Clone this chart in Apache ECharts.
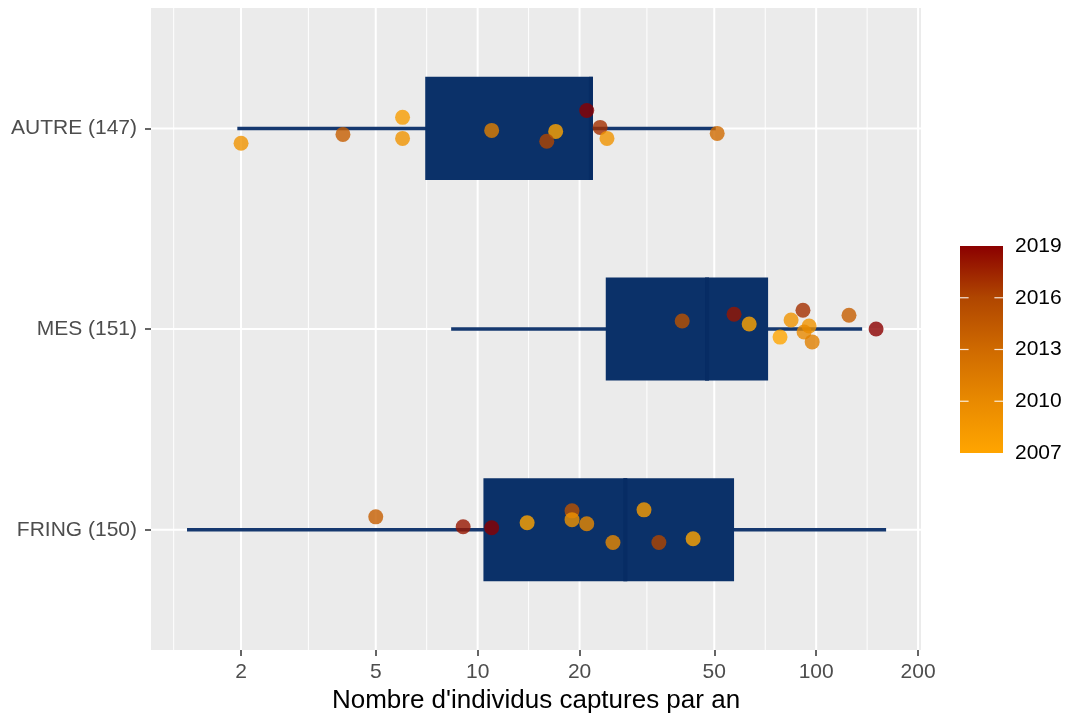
<!DOCTYPE html>
<html>
<head>
    <meta charset="utf-8">
    <title>Captures par an</title>
    <script src="https://cdn.jsdelivr.net/npm/echarts@6/dist/echarts.min.js"></script>
</head>
<body style="margin:0;background:#fff">
<div id="main" style="width:1070px;height:719px"></div>
<script type="text/javascript">
    // categories, bottom to top (y = 1, 2, 3)
    var categories = ['FRING (150)', 'MES (151)', 'AUTRE (147)'];

    // box stats: [whisker low, q1, median, q3, whisker high]
    var fringBox = [1.385, 10.4, 27.3, 57.2, 160.9];
    var mesBox = [8.35, 23.9, 47.6, 72.1, 136.7];
    var autreBox = [1.95, 7.0, 21.6, 21.9, 50.5];

    // points: value, vertical jitter, year
    var fringVals = [5, 9.06, 11.0, 14.0, 19.0, 19.0, 21.0, 25.1, 31.0, 34.3, 43.3];
    var fringJit = [0.064, 0.015, 0.01, 0.035, 0.094, 0.05, 0.03, -0.064, 0.099, -0.064, -0.045];
    var fringYears = [2014, 2018, 2019, 2007, 2015, 2009, 2010, 2010, 2008, 2016, 2007];

    var mesVals = [40.2, 57.2, 63.4, 84.3, 91.4, 95.3, 92.1, 78.2, 97.3, 125, 150.3];
    var mesJit = [0.04, 0.074, 0.025, 0.045, 0.094, 0.015, -0.015, -0.04, -0.064, 0.069, 0];
    var mesYears = [2015, 2018, 2007, 2009, 2017, 2009, 2010, 2007, 2011, 2014, 2019];

    var autreVals = [2, 4, 6, 6, 11, 17, 16, 21, 23, 24.1, 51];
    var autreJit = [-0.074, -0.03, 0.055, -0.05, -0.01, -0.015, -0.064, 0.089, 0.005, -0.05, -0.025];
    var autreYears = [2009, 2014, 2008, 2009, 2011, 2007, 2016, 2019, 2017, 2009, 2013];

    // x axis (log10)
    var xTicks = [2, 5, 10, 20, 50, 100, 200];
    var xMinor = [1.265, 3.162, 7.071, 14.14, 31.62, 70.71, 141.4];
    var xLimits = [1.084, 204];

    // colour scale
    var yearMin = 2007, yearMax = 2019;
    var yearTicks = [2010, 2013, 2016];
    var yearColors = ['#FFA500', '#E98A00', '#CF6A00', '#B04600', '#8B0000'];

    var boxColor = '#0B3169';
    var textColor = '#4D4D4D';
    var font = 'Liberation Sans';

    function lg(v) { return Math.log10(v); }

    var boxData = [fringBox, mesBox, autreBox].map(function (b, i) {
        return [i + 1].concat(b.map(lg));
    });

    var pointData = [];
    [[fringVals, fringJit, fringYears], [mesVals, mesJit, mesYears], [autreVals, autreJit, autreYears]]
        .forEach(function (g, i) {
            for (var k = 0; k < g[0].length; k++) {
                pointData.push([lg(g[0][k]), i + 1 + g[1][k], g[2][k]]);
            }
        });

    // [value, line width]
    var vLines = xTicks.map(function (v) { return [lg(v), 2]; })
        .concat(xMinor.map(function (v) { return [lg(v), 1]; }));
    var hLines = categories.map(function (c, i) { return [i + 1, 2]; });

    var chart = echarts.init(document.getElementById('main'));

    var option = {
        backgroundColor: '#ffffff',
        animation: false,
        grid: [
            {left: 151, right: 149, top: 8, bottom: 61, show: true, backgroundColor: '#EBEBEB', borderWidth: 0},
            {left: 960, top: 246, width: 43, height: 207}
        ],
        xAxis: [
            {
                type: 'value', gridIndex: 0,
                min: lg(xLimits[0]), max: lg(xLimits[1]),
                axisLine: {show: false},
                splitLine: {show: false},
                axisTick: {show: true, length: 6, customValues: xTicks.map(lg), lineStyle: {color: '#333333', width: 1.5}},
                axisLabel: {
                    customValues: xTicks.map(lg), margin: 12,
                    fontFamily: font, fontSize: 21, color: textColor,
                    formatter: function (v) { return String(Math.round(Math.pow(10, v))); }
                },
                name: "Nombre d'individus captures par an",
                nameLocation: 'middle', nameGap: 36,
                nameTextStyle: {fontFamily: font, fontSize: 26, color: '#000000'}
            },
            {type: 'value', gridIndex: 1, min: 0, max: 1, show: false}
        ],
        yAxis: [
            {
                type: 'value', gridIndex: 0, min: 0.4, max: 3.6,
                axisLine: {show: false},
                splitLine: {show: false},
                axisTick: {show: true, length: 6, customValues: [1, 2, 3], lineStyle: {color: '#333333', width: 1.5}},
                axisLabel: {
                    customValues: [1, 2, 3], margin: 14,
                    fontFamily: font, fontSize: 21, color: textColor,
                    formatter: function (v) { return categories[Math.round(v) - 1]; }
                }
            },
            {
                type: 'value', gridIndex: 1, position: 'right',
                min: yearMin, max: yearMax, interval: 3,
                axisLine: {show: false}, axisTick: {show: false}, splitLine: {show: false},
                axisLabel: {
                    margin: 12, fontFamily: font, fontSize: 21, color: '#000000',
                    formatter: function (v) { return String(v); }
                }
            }
        ],
        visualMap: {
            show: false, type: 'continuous', seriesIndex: 3, dimension: 2,
            min: yearMin, max: yearMax,
            inRange: {color: yearColors}
        },
        series: [
            {
                // vertical grid lines
                type: 'custom', xAxisIndex: 0, yAxisIndex: 0, z: 1, silent: true,
                data: vLines,
                encode: {x: 0},
                renderItem: function (params, api) {
                    var cs = params.coordSys;
                    var x = api.coord([api.value(0), 1])[0];
                    return {type: 'line', shape: {x1: x, y1: cs.y, x2: x, y2: cs.y + cs.height},
                        style: {stroke: '#FFFFFF', lineWidth: api.value(1)}};
                }
            },
            {
                // horizontal grid lines
                type: 'custom', xAxisIndex: 0, yAxisIndex: 0, z: 1, silent: true,
                data: hLines,
                encode: {y: 0},
                renderItem: function (params, api) {
                    var cs = params.coordSys;
                    var y = api.coord([lg(xLimits[0]), api.value(0)])[1];
                    return {type: 'line', shape: {x1: cs.x, y1: y, x2: cs.x + cs.width, y2: y},
                        style: {stroke: '#FFFFFF', lineWidth: api.value(1)}};
                }
            },
            {
                // boxplots
                type: 'custom', xAxisIndex: 0, yAxisIndex: 0, z: 2, silent: true,
                data: boxData,
                encode: {y: 0, x: [1, 2, 3, 4, 5]},
                renderItem: function (params, api) {
                    var c = api.value(0), hw = 0.257;
                    var lo = api.coord([api.value(1), c]);
                    var hi = api.coord([api.value(5), c]);
                    var q1 = api.coord([api.value(2), c + hw]);
                    var q3 = api.coord([api.value(4), c - hw]);
                    var mTop = api.coord([api.value(3), c + hw]);
                    var mBot = api.coord([api.value(3), c - hw]);
                    return {
                        type: 'group',
                        children: [
                            {type: 'line', shape: {x1: lo[0], y1: lo[1], x2: hi[0], y2: hi[1]},
                                style: {stroke: '#15386F', lineWidth: 3.5}},
                            {type: 'rect', shape: {x: q1[0], y: q1[1], width: q3[0] - q1[0], height: q3[1] - q1[1]},
                                style: {fill: boxColor}},
                            {type: 'line', shape: {x1: mTop[0], y1: mTop[1], x2: mBot[0], y2: mBot[1]},
                                style: {stroke: '#072C64', lineWidth: 4}}
                        ]
                    };
                }
            },
            {
                type: 'scatter', xAxisIndex: 0, yAxisIndex: 0, z: 3,
                symbolSize: 15,
                itemStyle: {opacity: 0.8},
                data: pointData
            },
            {
                // colour bar
                type: 'custom', xAxisIndex: 1, yAxisIndex: 1, z: 2, silent: true,
                data: yearTicks.map(function (y) { return [0, y]; }),
                renderItem: function (params, api) {
                    var cs = params.coordSys;
                    var y = api.coord([0, api.value(1)])[1];
                    var tl = cs.width * 0.2;
                    var children = [
                        {type: 'line', shape: {x1: cs.x, y1: y, x2: cs.x + tl, y2: y}, style: {stroke: '#FFFFFF', lineWidth: 1.2, opacity: 0.85}},
                        {type: 'line', shape: {x1: cs.x + cs.width - tl, y1: y, x2: cs.x + cs.width, y2: y}, style: {stroke: '#FFFFFF', lineWidth: 1.2, opacity: 0.85}}
                    ];
                    if (params.dataIndex === 0) {
                        var stops = yearColors.map(function (col, i) {
                            return {offset: 1 - i / (yearColors.length - 1), color: col};
                        }).reverse();
                        children.unshift({
                            type: 'rect',
                            shape: {x: cs.x, y: cs.y, width: cs.width, height: cs.height},
                            style: {fill: new echarts.graphic.LinearGradient(0, 0, 0, 1, stops)}
                        });
                    }
                    return {type: 'group', children: children};
                }
            }
        ]
    };

    chart.setOption(option);
</script>
</body>
</html>
